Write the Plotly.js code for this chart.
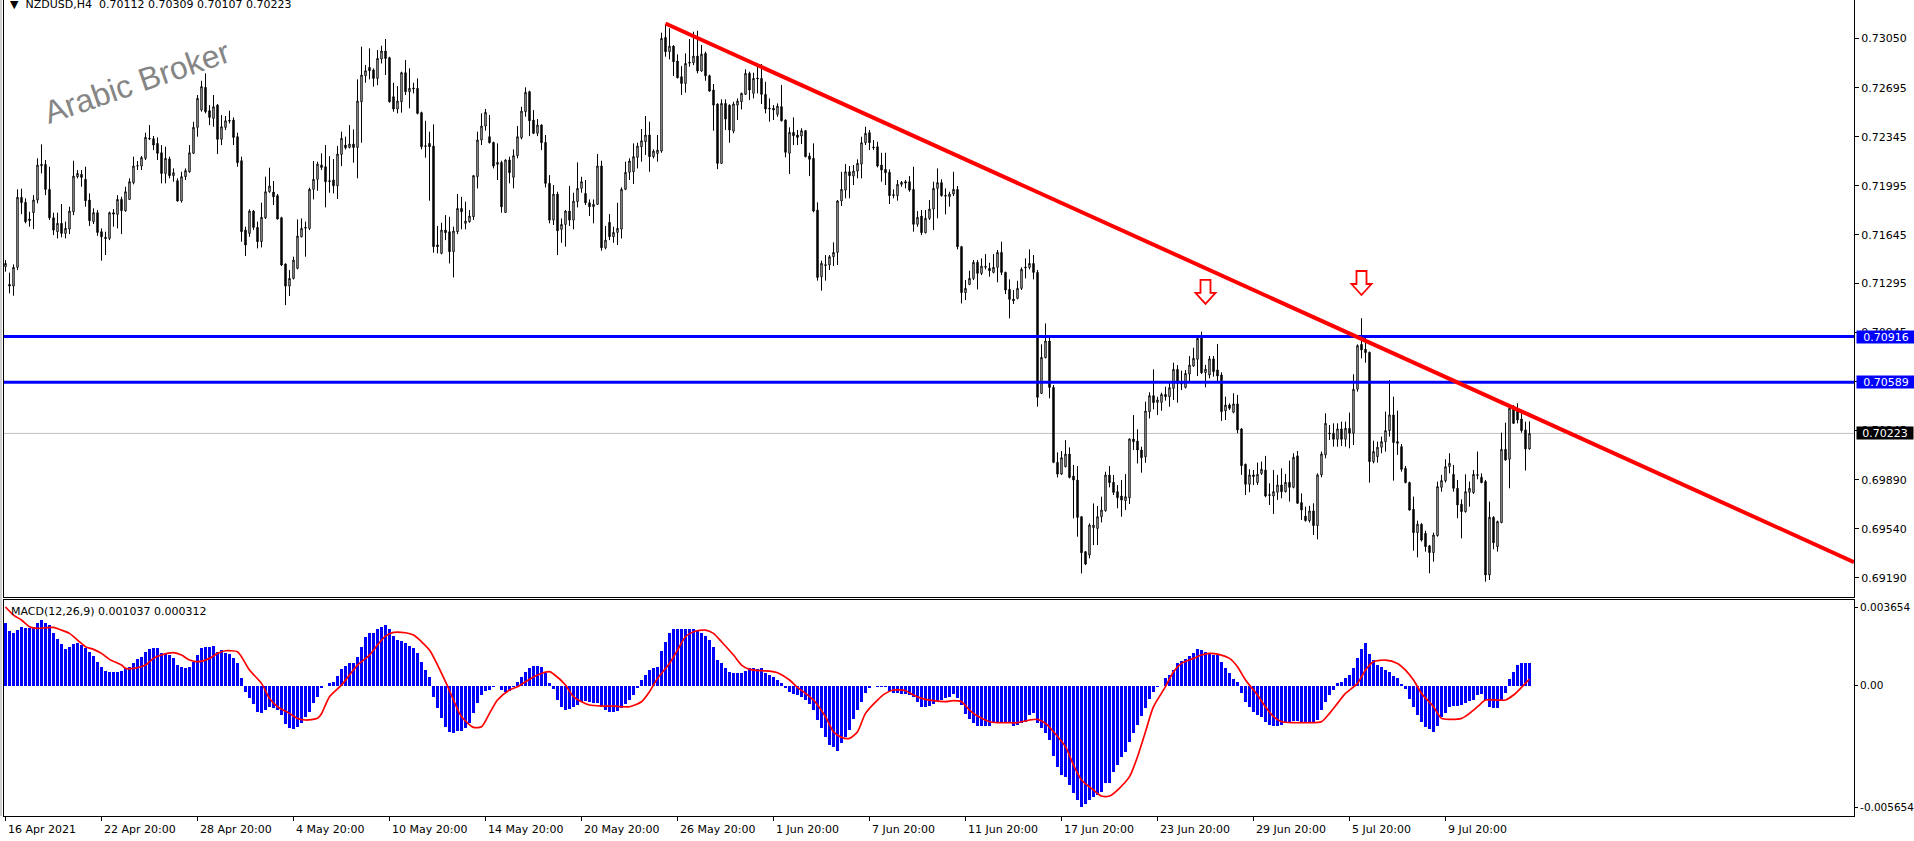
<!DOCTYPE html>
<html><head><meta charset="utf-8">
<script src="https://cdn.plot.ly/plotly-3.0.1.min.js"></script>
<style>html,body{margin:0;padding:0;background:#fff;overflow:hidden}#chart{width:1914px;height:841px}</style>
</head><body><div id="chart"></div>
<script>
// ---------------- DATA ----------------
const symbolTitle = 'NZDUSD,H4';
const lastOHLC = ['0.70112', '0.70309', '0.70107', '0.70223'];
const macdTitle = 'MACD(12,26,9) 0.001037 0.000312';
const watermark = 'Arabic Broker';

// H4 candles, prices in points (price x 1e5)
const openPts = [
71416,71289,71277,71411,71912,71876,71757,71802,71893,72138,
72148,71969,71766,71666,71726,71654,71685,71809,72060,72076,
72041,71893,71738,71802,71666,71626,71618,71802,71790,71897,
71816,71897,72017,72136,72136,72191,72336,72331,72298,72231,
72083,72186,72067,72031,71886,72060,72095,72227,72413,72537,
72699,72532,72477,72572,72327,72413,72463,72465,72346,72174,
71678,71654,71814,71697,71595,71766,71952,71950,71924,71766,
71435,71277,71332,71404,71630,71697,71690,71969,72041,72143,
72131,72031,72036,71995,72219,72286,72269,72293,72269,72596,
72782,72842,72823,72763,72902,72959,72911,72632,72544,72596,
72804,72668,72694,72692,72518,72281,72298,72279,71571,71511,
71678,71666,71523,71666,71833,71726,71738,71773,72060,72322,
72422,72346,72305,72148,72162,71804,72179,72055,72210,72339,
72525,72668,72465,72370,72429,72305,72012,71749,71935,71683,
71718,71814,71749,71881,71976,71940,71873,71845,71862,72136,
71551,71733,71630,71661,71685,71969,72091,72095,72198,72274,
72310,72358,72203,72226,72243,73056,72954,72994,72887,72775,
72727,72878,72875,72923,72816,72942,72782,72680,72579,72155,
72584,72572,72386,72572,72596,72649,72799,72656,72766,72763,
72649,72551,72549,72506,72561,72465,72227,72377,72358,72351,
72389,72208,72191,71821,71344,71430,71428,71487,71518,71886,
71964,72095,72064,72100,72150,72303,72375,72272,72274,72143,
72112,72091,71931,71924,72005,72024,72024,71969,71719,71778,
71659,71762,71828,71976,72017,71926,71917,71936,71969,71559,
71230,71289,71332,71447,71368,71418,71404,71375,71411,71518,
71375,71253,71184,71189,71261,71413,71411,71439,71375,70509,
70765,70884,70552,70016,69932,69985,70075,69918,69889,69627,
69376,69353,69548,69543,69627,69670,69925,69873,69806,69775,
69741,69763,70183,70168,70104,70056,70378,70493,70445,70445,
70502,70485,70545,70681,70588,70552,70648,70705,70753,70915,
70658,70641,70756,70677,70641,70384,70426,70374,70434,70255,
70002,69859,69926,69871,69937,69961,69785,69775,69802,69854,
69806,69873,69837,70062,69728,69632,69599,69668,69563,69926,
70069,70226,70224,70181,70255,70181,70259,70224,70539,70860,
70825,70803,70021,70057,70124,70164,70243,70355,70164,70128,
69973,69871,69680,69513,69573,69508,69418,69370,69492,69837,
69885,69985,69930,69830,69716,69663,69802,69799,69928,69909,
69878,69210,69623,69413,69585,70109,70038,70403,70391,70326,
70248,70112];
const highPts = [
71463,71373,71432,71969,71974,71905,71809,71928,72191,72291,
72179,72131,71802,71802,71864,71738,71845,72174,72107,72107,
72131,71940,71833,71821,71690,71666,71809,71828,71928,71916,
71988,72048,72203,72172,72207,72374,72429,72351,72341,72286,
72274,72203,72119,72048,72095,72119,72286,72453,72644,72746,
72799,72572,72644,72580,72501,72494,72532,72484,72374,72203,
71702,71826,71821,71738,71874,72060,72124,72029,71936,71773,
71439,71392,71487,71754,71761,71738,71981,72172,72167,72227,
72286,72207,72186,72279,72382,72346,72429,72398,72756,72990,
72859,72978,72835,72966,72997,73045,72918,72732,72708,72811,
72894,72835,72732,72763,72525,72460,72382,72434,71707,71730,
71785,71773,71702,71936,71916,71881,71821,72072,72382,72513,
72544,72501,72310,72298,72174,72184,72203,72255,72422,72560,
72699,72675,72536,72472,72435,72358,72071,72000,71952,71761,
71821,71993,71945,72162,72059,72036,71897,71897,72222,72174,
71707,71792,71702,71873,71983,72167,72191,72298,72303,72401,
72494,72453,72255,72358,73090,73145,73121,73000,72935,72851,
72942,73045,73097,73104,73002,72954,72790,72723,72585,72613,
72613,72577,72596,72620,72661,72828,72811,72804,72871,72866,
72739,72620,72572,72584,72716,72470,72413,72484,72394,72406,
72394,72231,72298,71876,71459,71499,71499,71590,71893,72095,
72150,72136,72143,72184,72346,72417,72394,72322,72310,72231,
72231,72112,71969,72036,72029,72036,72064,72131,71814,71821,
71821,71893,72024,72119,72041,71976,71952,72095,71993,71565,
71320,71387,71463,71463,71475,71506,71444,71506,71535,71595,
71380,71325,71249,71315,71411,71475,71540,71499,71392,70860,
71010,70920,70569,70087,70097,70175,70123,69997,69989,69630,
69380,69579,69722,69703,69770,69949,69989,69925,69853,69889,
69932,70187,70354,70252,70128,70450,70517,70681,70485,70514,
70557,70593,70729,70712,70672,70676,70776,70836,70915,70951,
70713,70777,70777,70863,70660,70486,70438,70510,70498,70260,
70006,69966,69961,70014,70021,70062,69866,69961,69926,69973,
69933,70028,70081,70097,69794,69699,69704,69723,69937,70093,
70367,70283,70295,70295,70307,70307,70372,70646,70860,71047,
70927,70808,70171,70164,70200,70379,70605,70486,70386,70147,
69990,69878,69771,69599,69580,69527,69425,69513,69878,69926,
70038,70081,69997,69890,69751,69930,69878,69961,70093,69937,
69890,69735,69630,69599,70228,70300,70410,70426,70438,70367,
70307,70309];
const lowPts = [
71380,71225,71208,71392,71792,71726,71702,71685,71869,72083,
71928,71750,71642,71618,71626,71618,71649,71785,72048,71988,
71845,71707,71721,71637,71459,71499,71606,71702,71690,71649,
71809,71893,72005,72107,72107,72179,72322,72250,72179,72012,
72012,72048,72024,71881,71874,72036,72088,72222,72346,72525,
72513,72429,72417,72222,72286,72393,72441,72286,72131,71595,
71492,71630,71678,71547,71554,71757,71945,71857,71754,71420,
71141,71206,71325,71397,71626,71487,71678,71897,71959,72107,
71840,71945,71940,71900,72136,72255,72262,72160,72048,72303,
72732,72756,72704,72715,72870,72787,72590,72525,72513,72518,
72644,72549,72656,72505,72255,72196,71888,71516,71511,71505,
71606,71439,71339,71649,71683,71683,71730,71750,71976,72286,
72389,72298,72119,72036,71802,71802,72012,71976,72191,72327,
72489,72350,72365,72350,72250,71983,71726,71714,71499,71587,
71559,71707,71683,71840,71945,71857,71778,71726,71857,71530,
71540,71606,71587,71571,71618,71964,72036,72007,72119,72167,
72215,72095,72191,72167,72231,72918,72899,72780,72763,72644,
72661,72847,72858,72799,72811,72746,72668,72389,72114,72150,
72394,72303,72370,72465,72541,72644,72608,72620,72656,72580,
72513,72453,72465,72489,72455,72198,72079,72286,72286,72293,
72198,72064,71805,71316,71244,71316,71392,71421,71428,71850,
71905,71905,72000,72048,72048,72286,72250,72250,72126,72024,
72000,71864,71905,71888,71988,71976,71952,71666,71702,71642,
71654,71750,71678,71762,71917,71790,71845,71921,71540,71153,
71177,71284,71320,71253,71356,71397,71344,71368,71304,71356,
71220,71046,71149,71182,71249,71332,71397,71325,70414,70505,
70760,70474,70010,69908,69925,69980,69901,69615,69484,69221,
69281,69329,69424,69424,69586,69663,69837,69782,69687,69627,
69675,69718,70104,70008,69942,70013,70330,70395,70354,70385,
70457,70414,70462,70443,70533,70545,70593,70700,70633,70648,
70553,70617,70629,70593,70312,70319,70391,70367,70224,69926,
69782,69802,69854,69854,69926,69766,69711,69647,69747,69759,
69800,69735,69830,69720,69604,69592,69585,69496,69465,69909,
70045,70176,70128,70128,70133,70128,70116,70140,70522,70760,
70729,69871,70009,70014,70081,70093,70200,69885,70069,69949,
69866,69670,69384,69336,69449,69377,69222,69305,69484,69806,
69871,69937,69806,69616,69472,69656,69699,69790,69895,69866,
69162,69174,69394,69377,69580,70028,69830,70290,70295,70228,
69957,70107];
const closePts = [
71439,71277,71411,71912,71874,71738,71747,71893,72143,72148,
71969,71766,71678,71726,71654,71690,71814,72064,72083,72055,
71888,71745,71802,71661,71630,71618,71802,71792,71897,71816,
71952,72024,72136,72138,72196,72341,72331,72286,72227,72083,
72191,72067,72088,71886,72060,72103,72231,72413,72620,72704,
72525,72484,72560,72327,72417,72460,72458,72341,72160,71666,
71571,71814,71697,71595,71769,71952,71993,71916,71757,71428,
71277,71332,71463,71635,71690,71692,71969,72041,72150,72126,
72024,72026,71995,72222,72334,72267,72293,72269,72601,72787,
72818,72818,72763,72906,72959,72906,72596,72544,72601,72804,
72668,72692,72689,72513,72274,72277,72274,71559,71559,71678,
71659,71523,71671,71833,71809,71742,71778,72067,72322,72422,
72520,72303,72136,72162,71845,72179,72088,72210,72346,72529,
72663,72460,72370,72429,72303,72012,71749,71935,71673,71718,
71814,71749,71885,71976,72024,71873,71845,71862,72136,71551,
71606,71630,71661,71690,71969,72091,72172,72203,72279,72317,
72358,72203,72243,72250,73049,72954,72994,72882,72768,72727,
72870,72873,72923,72816,72937,72782,72672,72572,72155,72584,
72472,72394,72580,72601,72656,72799,72680,72763,72761,72649,
72544,72546,72537,72565,72460,72234,72377,72353,72341,72389,
72203,72184,71814,71339,71440,71425,71487,71518,71886,71969,
72095,72067,72100,72155,72303,72370,72303,72267,72136,72107,
72088,71924,71926,72005,72019,72014,71964,71719,71769,71659,
71762,71828,71976,72017,71924,71921,71936,71969,71559,71230,
71261,71332,71447,71368,71420,71413,71387,71411,71518,71375,
71249,71182,71172,71261,71397,71408,71439,71375,70481,70767,
70884,70552,70016,69932,70049,70075,69908,69889,69622,69369,
69288,69567,69567,69627,69675,69925,69870,69801,69763,69746,
69770,70183,70164,70104,70049,70383,70493,70443,70462,70502,
70485,70550,70681,70581,70576,70652,70712,70760,70903,70657,
70682,70756,70665,70634,70379,70426,70403,70434,70248,69992,
69859,69926,69914,69930,69966,69775,69780,69806,69854,69806,
69873,69837,70052,69723,69675,69599,69668,69563,69926,70076,
70295,70221,70181,70255,70181,70259,70224,70539,70851,70820,
70801,70021,70093,70124,70164,70243,70355,70157,70152,69966,
69871,69675,69513,69573,69460,69413,69370,69496,69842,69885,
69985,70009,69830,69711,69663,69806,69830,69930,69923,69871,
69210,69623,69441,69592,70109,70033,70403,70295,70319,70243,
70112,70223];

// MACD main (histogram), value x 1e-6
const macdMain = [
2924,2553,2429,2583,2707,2661,2661,2738,2893,3048,
2893,2816,2429,2166,1918,1686,1810,1918,1965,1887,
1733,1578,1377,1114,882,681,650,650,650,696,
804,882,1036,1222,1346,1547,1686,1733,1733,1532,
1454,1423,1269,959,882,835,882,1114,1423,1764,
1810,1810,1841,1578,1655,1532,1470,1299,1036,371,
-278,-557,-866,-1207,-1253,-1129,-975,-1052,-1129,-1361,
-1779,-1980,-2027,-1903,-1717,-1439,-1207,-820,-511,-124,
-15,139,186,449,758,913,1036,1067,1346,1810,
2274,2429,2460,2614,2738,2816,2614,2305,2119,2088,
1965,1856,1733,1501,1114,727,418,-511,-1052,-1516,
-1903,-2135,-2212,-2088,-2088,-1980,-1717,-1284,-820,-433,
-232,-201,-77,-15,-201,-278,-232,-77,186,387,
650,835,913,913,882,603,108,-170,-665,-975,
-1129,-1098,-1006,-897,-743,-696,-743,-820,-820,-1006,
-1129,-1207,-1207,-1160,-1052,-866,-665,-433,-124,263,
495,727,835,882,1624,2042,2460,2614,2630,2630,
2630,2614,2614,2553,2429,2305,2119,1810,1191,1067,
835,650,572,572,603,696,804,835,774,804,
603,495,387,263,139,-124,-278,-387,-433,-511,
-665,-851,-1129,-1593,-1980,-2367,-2754,-2831,-3017,-2676,
-2367,-2058,-1562,-1129,-743,-356,-124,-15,-77,-77,
-77,-232,-356,-356,-387,-387,-433,-541,-743,-975,
-1006,-944,-851,-696,-665,-588,-511,-387,-590,-900,
-1300,-1550,-1750,-1856,-1856,-1856,-1856,-1671,-1671,-1671,
-1717,-1748,-1872,-1825,-1748,-1671,-1361,-1284,-1748,-1980,
-2181,-2522,-3264,-3759,-4146,-4223,-4610,-4997,-5306,-5654,
-5492,-5306,-5152,-5074,-4919,-4533,-4533,-3991,-3682,-3295,
-3063,-2599,-2181,-1825,-1408,-1052,-634,-278,-77,-15,
340,495,727,1036,1145,1222,1377,1501,1702,1655,
1578,1501,1423,1423,1114,804,603,294,186,-325,
-743,-975,-1207,-1361,-1439,-1671,-1825,-1872,-1872,-1825,
-1671,-1671,-1624,-1624,-1671,-1717,-1748,-1717,-1593,-1129,
-743,-433,-201,108,186,340,495,804,1269,1686,
1965,1470,1191,959,882,727,650,449,340,77,
-170,-619,-1006,-1361,-1671,-1934,-2027,-2135,-1872,-1470,
-1253,-975,-944,-944,-897,-789,-696,-665,-433,-387,
-665,-975,-1052,-1052,-665,-325,294,650,959,1067,
1067,1037];

// MACD signal line read at these bars, value x 1e-6
const sigBars = [0,2,4,6,8,10,12,14,16,18,20,22,24,26,29,30,32,35,37,39,42,44,46,48,51,53,55,58,59,61,
64,66,68,71,73,75,78,79,81,84,86,88,91,93,95,97,100,102,104,106,110,112,114,117,119,121,123,126,128,130,
133,136,137,140,142,144,146,149,152,154,156,159,161,163,166,168,170,172,175,177,179,182,184,186,189,191,193,196,198,200,
202,205,207,209,211,213,215,218,220,222,225,227,229,232,235,237,
239,241,243,246,248,251,253,256,258,260,262,265,267,269,272,274,276,278,281,283,285,287,290,292,294,297,299,301,303,306,
308,310,313,315,317,319,322,324,326,329,331,333,335,338,340,342,345,348,350,352,354,357,359,361,364,366,368,370,373,375,377,379,381];
const sigVals = [3654,3280,3048,2738,2661,2692,2707,2583,2429,2119,1810,1686,1501,1222,959,804,804,959,1269,1423,1532,1423,1191,1114,1269,1501,1624,1578,1346,727,
108,-588,-975,-1284,-1516,-1593,-1516,-1300,-511,31,495,959,1423,1887,2305,2475,2460,2351,2042,1655,186,-665,-1439,-1934,-1903,-1284,-665,-201,-46,186,
495,650,541,31,-511,-743,-897,-944,-944,-975,-975,-743,-278,340,1036,1655,2274,2506,2583,2429,2042,1423,959,758,696,681,603,263,-77,-356,
-665,-1439,-2135,-2398,-2444,-2135,-1284,-665,-356,-201,-232,-433,-588,-696,-743,-696,
-743,-1129,-1408,-1671,-1717,-1717,-1717,-1593,-1562,-1748,-2135,-2831,-3682,-4378,-4842,-5121,-5121,-4842,-4223,-3295,-2135,-975,-46,650,1036,1269,1423,1501,1470,1269,
882,263,-433,-975,-1439,-1671,-1717,-1717,-1717,-1671,-1284,-820,-356,108,727,1114,1191,1036,727,263,-356,-975,-1516,-1562,-1516,-1284,-975,-665,-665,-665,-433,-77,312];

const timeTickBars = [0,24,48,72,96,120,144,168,192,216,240,264,288,312,336,360];
const timeTickLabels = ['16 Apr 2021','22 Apr 20:00','28 Apr 20:00','4 May 20:00','10 May 20:00','14 May 20:00',
  '20 May 20:00','26 May 20:00','1 Jun 20:00','7 Jun 20:00','11 Jun 20:00','17 Jun 20:00','23 Jun 20:00',
  '29 Jun 20:00','5 Jul 20:00','9 Jul 20:00'];
const priceTickVals = [0.73050,0.72695,0.72345,0.71995,0.71645,0.71295,0.70945,0.70595,0.70245,0.69890,0.69540,0.69190];
const macdTickVals = [0.003654, 0, -0.005654];
const macdTickText = ['0.003654', '0.00', '-0.005654'];

const levelLines = [0.70916, 0.70589];
const bidPrice = 0.70223;
const trendBars = [165, 462.125];
const trendPrices = [0.73156, 0.69302];
const arrowBars = [300, 339];
const arrowPrices = [0.71321, 0.71385];

// ---------------- CHART ----------------
const FONT = 'DejaVu Sans, Verdana, sans-serif';
const bars = openPts.map((_, i) => i);
const toPrice = v => v / 1e5;
const toMacd = v => v / 1e6;
const X_RANGE = [-0.375, 462.125];   // bar centres land on pixel centres (crisp 1px wicks)

const traces = [
  {type: 'candlestick', x: bars, open: openPts.map(toPrice), high: highPts.map(toPrice),
   low: lowPts.map(toPrice), close: closePts.map(toPrice), xaxis: 'x', yaxis: 'y',
   increasing: {line: {color: '#000000', width: 1}, fillcolor: '#ffffff'},
   decreasing: {line: {color: '#000000', width: 1}, fillcolor: '#000000'},
   whiskerwidth: 0, hoverinfo: 'skip', showlegend: false},
  {type: 'bar', x: bars, y: macdMain.map(toMacd), xaxis: 'x2', yaxis: 'y2',
   marker: {color: '#0000ff', line: {width: 0}}, width: 0.625, offset: -0.375, hoverinfo: 'skip', showlegend: false},
  {type: 'scatter', mode: 'lines', x: sigBars, y: sigVals.map(toMacd), xaxis: 'x2', yaxis: 'y2',
   line: {color: '#ff0000', width: 1.7, shape: 'spline', smoothing: 0.7}, hoverinfo: 'skip', showlegend: false}
];

const shapes = [];
shapes.push({type: 'line', xref: 'paper', yref: 'y', x0: 0, x1: 1, y0: bidPrice, y1: bidPrice,
  line: {color: '#c0c0c0', width: 1}, layer: 'below'});
levelLines.forEach(v => shapes.push({type: 'line', xref: 'paper', yref: 'y', x0: 0, x1: 1, y0: v, y1: v,
  line: {color: '#0000ff', width: 3}}));
shapes.push({type: 'line', xref: 'x', yref: 'y', x0: trendBars[0], y0: trendPrices[0], x1: trendBars[1], y1: trendPrices[1],
  line: {color: '#ff0000', width: 4}});
arrowBars.forEach((b, k) => shapes.push({type: 'path', xref: 'x', yref: 'y', xsizemode: 'pixel', ysizemode: 'pixel',
  xanchor: b, yanchor: arrowPrices[k],
  path: 'M-5,0 L5,0 L5,-13 L10,-13 L0,-24 L-10,-13 L-5,-13 Z',
  line: {color: '#ff0000', width: 1.8}, fillcolor: '#ffffff'}));
// outer window edge
shapes.push({type: 'line', xref: 'paper', yref: 'paper', x0: -3/1850, x1: -3/1850, y0: 0, y1: 1,
  line: {color: '#a0a0a0', width: 1}});

const annotations = [];
annotations.push({xref: 'paper', yref: 'paper', x: 0.002, y: 1, xanchor: 'left', yanchor: 'middle', yshift: -4,
  text: '\u25BC\u00a0\u00a0' + symbolTitle + '\u00a0\u00a0' + lastOHLC.join(' '), showarrow: false,
  font: {family: FONT, size: 11, color: '#000'}});
annotations.push({xref: 'paper', yref: 'paper', x: 0.0027, y: 0.2647, xanchor: 'left', yanchor: 'middle', yshift: -11,
  text: macdTitle, showarrow: false, font: {family: FONT, size: 11, color: '#000'}});
annotations.push({xref: 'paper', yref: 'paper', x: 0.072, y: 0.8995, xanchor: 'center', yanchor: 'middle',
  text: watermark, textangle: -19, showarrow: false,
  font: {family: 'Liberation Sans, Arial, sans-serif', size: 32, color: '#858585'}});
timeTickBars.forEach((b, k) => annotations.push({xref: 'x2', yref: 'paper', x: b, y: 0, xanchor: 'left',
  yanchor: 'middle', yshift: -13, text: timeTickLabels[k], showarrow: false,
  font: {family: FONT, size: 11, color: '#000'}}));
levelLines.forEach(v => annotations.push({xref: 'paper', yref: 'y', x: 1, y: v, xanchor: 'left', yanchor: 'middle',
  xshift: 2, text: v.toFixed(5), showarrow: false, bgcolor: '#0000ff', width: 58, height: 12, borderpad: 0,
  align: 'center', font: {family: FONT, size: 11, color: '#ffffff'}}));
annotations.push({xref: 'paper', yref: 'y', x: 1, y: bidPrice, xanchor: 'left', yanchor: 'middle',
  xshift: 2, text: bidPrice.toFixed(5), showarrow: false, bgcolor: '#000000', width: 56, height: 12, borderpad: 0,
  align: 'center', font: {family: FONT, size: 11, color: '#ffffff'}});

const axisCommon = {showgrid: false, zeroline: false, linecolor: '#000', linewidth: 1, tickcolor: '#000',
  tickfont: {family: FONT, size: 11, color: '#000'}, fixedrange: true};

const layout = {
  width: 1914, height: 841,
  margin: {l: 4, r: 60, t: 0, b: 25, pad: 0},
  paper_bgcolor: '#ffffff', plot_bgcolor: '#ffffff',
  showlegend: false, hovermode: false, dragmode: false,
  boxgap: 0.5, bargap: 0,
  font: {family: FONT, size: 11, color: '#000'},
  xaxis: Object.assign({}, axisCommon, {type: 'linear', domain: [0, 1], range: X_RANGE, anchor: 'y',
    showticklabels: false, ticks: '', showline: true, rangeslider: {visible: false}}),
  yaxis: Object.assign({}, axisCommon, {domain: [0.2684, 1], range: [0.690525, 0.73324], side: 'right', anchor: 'x',
    tickvals: priceTickVals, ticktext: priceTickVals.map(v => v.toFixed(5)), ticks: 'outside', ticklen: 4,
    showline: true, mirror: true}),
  xaxis2: Object.assign({}, axisCommon, {type: 'linear', domain: [0, 1], range: X_RANGE, anchor: 'y2',
    tickvals: timeTickBars, ticks: 'outside', ticklen: 4, showticklabels: false, showline: true, mirror: true}),
  yaxis2: Object.assign({}, axisCommon, {domain: [0, 0.2647], range: [-0.006049, 0.003979], side: 'right', anchor: 'x2',
    tickvals: macdTickVals, ticktext: macdTickText, ticks: 'outside', ticklen: 3, showline: true, mirror: true,
    tickfont: {family: FONT, size: 10.5, color: '#000'}}),
  shapes: shapes,
  annotations: annotations
};

Plotly.newPlot('chart', traces, layout, {staticPlot: true, displayModeBar: false});
</script></body></html>
